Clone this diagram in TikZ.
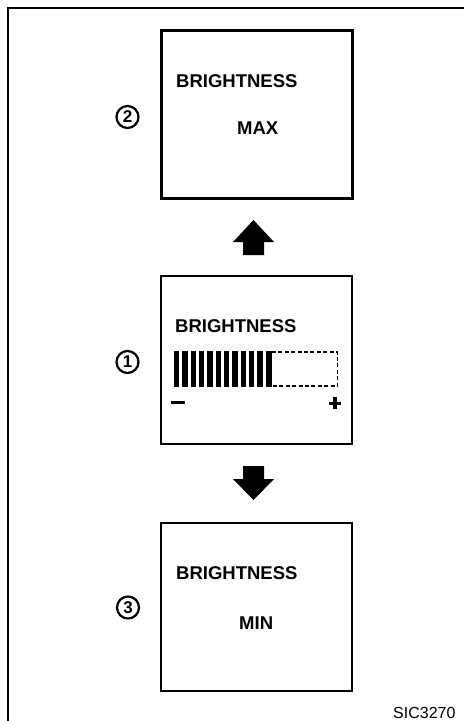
\documentclass[tikz,border=0pt]{standalone}
\usepackage{fontspec}
\setmainfont{Liberation Sans}
\begin{document}
\begin{tikzpicture}[x=1pt,y=-1pt,
  panel/.style={draw,line width=2.2pt,minimum width=191pt,minimum height=168pt,inner sep=0pt},
  lbl/.style={anchor=base west,inner sep=0pt,font=\fontsize{18.5}{20}\selectfont\bfseries},
  num/.style={draw,circle,line width=2.2pt,minimum size=22pt,inner sep=0pt,font=\fontsize{17}{18}\selectfont\bfseries},
  blockarrow/.style={fill=black,draw=none}]
\useasboundingbox (0,0) rectangle (464,721);
% outer frame
\draw[line width=2.2pt] (8,721) -- (8,8) -- (464,8);
% panels
\node[panel] (p2) at (257,114.5) {};
\node[panel] (p1) at (256.5,360) {};
\node[panel] (p3) at (256.5,607) {};
% numbers
\node[num] (n2) at (127.5,117) {2};
\node[num] (n1) at (127.5,362) {1};
\node[num] (n3) at (128,607.5) {3};
% texts
\node[lbl] (t2) at (176,87) {BRIGHTNESS};
\node[lbl] (m2) at (237,134) {MAX};
\node[lbl] (t1) at (175,332) {BRIGHTNESS};
\node[lbl] (t3) at (176,579) {BRIGHTNESS};
\node[lbl] (m3) at (239,629) {MIN};
\node[anchor=base west,inner sep=0pt,font=\fontsize{16}{18}\selectfont] (code) at (393,718) {SIC3270};
% bar graph
\foreach \i in {0,...,10} {
  \fill ({174+\i*8.33},351) rectangle ({179.3+\i*8.33},387);
}
\fill (265.6,351) rectangle (272,387);
\draw[line width=1.8pt,dash pattern=on 4pt off 2.4pt] (272,352) -- (337.5,352) -- (337.5,386) -- (272,386);
% minus and plus
\fill (171,400.5) rectangle (185,403.8);
\fill (329,401.5) rectangle (341,404.8);
\fill (333.4,397) rectangle (336.6,409);
% up arrow (p1 -> p2)
\fill[blockarrow] (243,255) -- (243,242) -- (233,242) -- (253.5,220) -- (274,242) -- (264,242) -- (264,255) -- cycle;
% down arrow (p1 -> p3)
\fill[blockarrow] (243,466) -- (243,479) -- (233,479) -- (253.5,500) -- (274,479) -- (264,479) -- (264,466) -- cycle;
\end{tikzpicture}
\end{document}
